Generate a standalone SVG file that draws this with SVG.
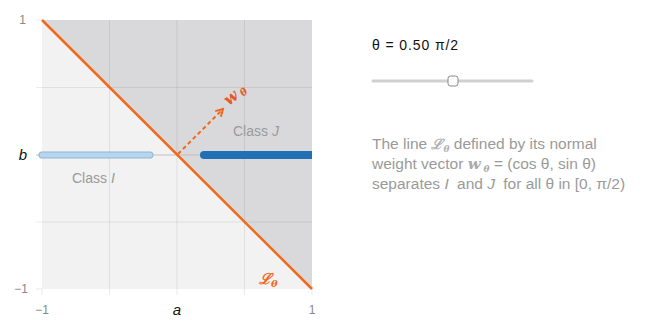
<svg xmlns="http://www.w3.org/2000/svg" width="652" height="330" viewBox="0 0 652 330">
<style>
.grid{stroke:#000;stroke-opacity:0.08;stroke-width:1;fill:none}
.tick{font-family:"Liberation Sans",Arial,sans-serif;font-size:12px;fill:#888}
.axv{font-family:"Liberation Sans",Arial,sans-serif;font-style:italic;font-size:15px;fill:#111}
.cls{font-family:"Liberation Sans",Arial,sans-serif;font-size:14px;fill:#9a9a9a}
.desc{font-family:"Liberation Sans",Arial,sans-serif;font-size:15.5px;fill:#9a9a9a}
.math{font-family:"DejaVu Serif","Liberation Serif",serif;font-style:italic;font-weight:bold}
</style>
<defs>
<marker id="ah" viewBox="0 0 10 10" refX="8" refY="5" markerWidth="5" markerHeight="5" orient="auto">
<path d="M1,1 L8,5 L1,9" fill="none" stroke="#f0691c" stroke-width="2"/>
</marker>
</defs>
<rect width="652" height="330" fill="#fff"/>
<g id="plot">
<rect x="42" y="20" width="270" height="269" fill="#f2f2f2"/>
<polygon points="42,20 312,20 312,289" fill="#d9d9db"/>
<g class="grid">
<line x1="109.5" y1="20" x2="109.5" y2="295"/>
<line x1="177" y1="20" x2="177" y2="295"/>
<line x1="244.5" y1="20" x2="244.5" y2="295"/>
<line x1="42" y1="289" x2="42" y2="295"/>
<line x1="312" y1="289" x2="312" y2="295"/>
<line x1="36" y1="87.5" x2="312" y2="87.5"/>
<line x1="36" y1="222" x2="312" y2="222"/>
<line x1="36" y1="20" x2="42" y2="20"/>
<line x1="36" y1="289" x2="42" y2="289"/>
</g>
<line x1="36" y1="155" x2="312" y2="155" stroke="#c0c0c0" stroke-width="1.2"/>
<text class="tick" x="26" y="24" text-anchor="end">1</text>
<text class="tick" x="28" y="293" text-anchor="end">−1</text>
<text class="tick" x="42" y="314" text-anchor="middle">−1</text>
<text class="tick" x="312" y="314" text-anchor="middle">1</text>
<text class="axv" x="27" y="160" text-anchor="end">b</text>
<text class="axv" x="177" y="315" text-anchor="middle">a</text>
</g>
<g id="classI">
<line x1="42" y1="155" x2="150" y2="155" stroke="#8fb5d4" stroke-width="7" stroke-linecap="round"/>
<line x1="42" y1="155" x2="150" y2="155" stroke="#b7d6ee" stroke-width="5" stroke-linecap="round"/>
<text class="cls" x="72" y="183">Class <tspan font-style="italic">I</tspan></text>
</g>
<g id="classJ">
<line x1="204" y1="155" x2="312" y2="155" stroke="#2170b5" stroke-width="8" stroke-linecap="round"/>
<rect x="312" y="148" width="6" height="14" fill="#fff"/>
<text class="cls" x="233" y="136">Class <tspan font-style="italic">J</tspan></text>
</g>
<g id="connectors">
<line x1="42" y1="20" x2="312" y2="289" stroke="#f0691c" stroke-width="2.5"/>
<line x1="178" y1="154" x2="223" y2="109" stroke="#f0691c" stroke-width="2" stroke-dasharray="4,3" marker-end="url(#ah)"/>
</g>
<g id="labels">
<text class="math" x="229" y="106" font-size="16" fill="#e4582a" transform="rotate(-40 229 106)">w<tspan font-size="10" dy="2" dx="3">θ</tspan></text>
<text class="math" x="259" y="284" font-size="15" fill="#f0691c">ℒ<tspan font-size="10" dy="3">θ</tspan></text>
</g>
<g id="control">
<text x="372" y="50" font-family="'Liberation Sans',Arial,sans-serif" font-size="14" letter-spacing="0.9" fill="#111">θ = 0.50 π/2</text>
<line x1="373" y1="81" x2="532" y2="81" stroke="#d0d0d0" stroke-width="3" stroke-linecap="round"/>
<rect x="448" y="76" width="10" height="10" rx="2.5" fill="#fdfdfd" stroke="#888" stroke-width="1"/>
</g>
<g id="description">
<text class="desc" x="372" y="149">The line <tspan class="math" font-size="14" fill="#b0b0b0">ℒ<tspan font-size="9" dy="3">θ</tspan></tspan><tspan dy="-3"> defined by its normal</tspan></text>
<text class="desc" x="372" y="169">weight vector <tspan class="math" font-size="15" fill="#aaa">w<tspan font-size="9" dy="3" dx="3">θ</tspan></tspan><tspan dy="-3"> = (cos θ, sin θ)</tspan></text>
<text class="desc" x="372" y="189">separates <tspan font-style="italic">I</tspan><tspan dx="4"> and </tspan><tspan font-style="italic">J</tspan><tspan dx="4"> for all θ in [0, π/2)</tspan></text>
</g>
</svg>
